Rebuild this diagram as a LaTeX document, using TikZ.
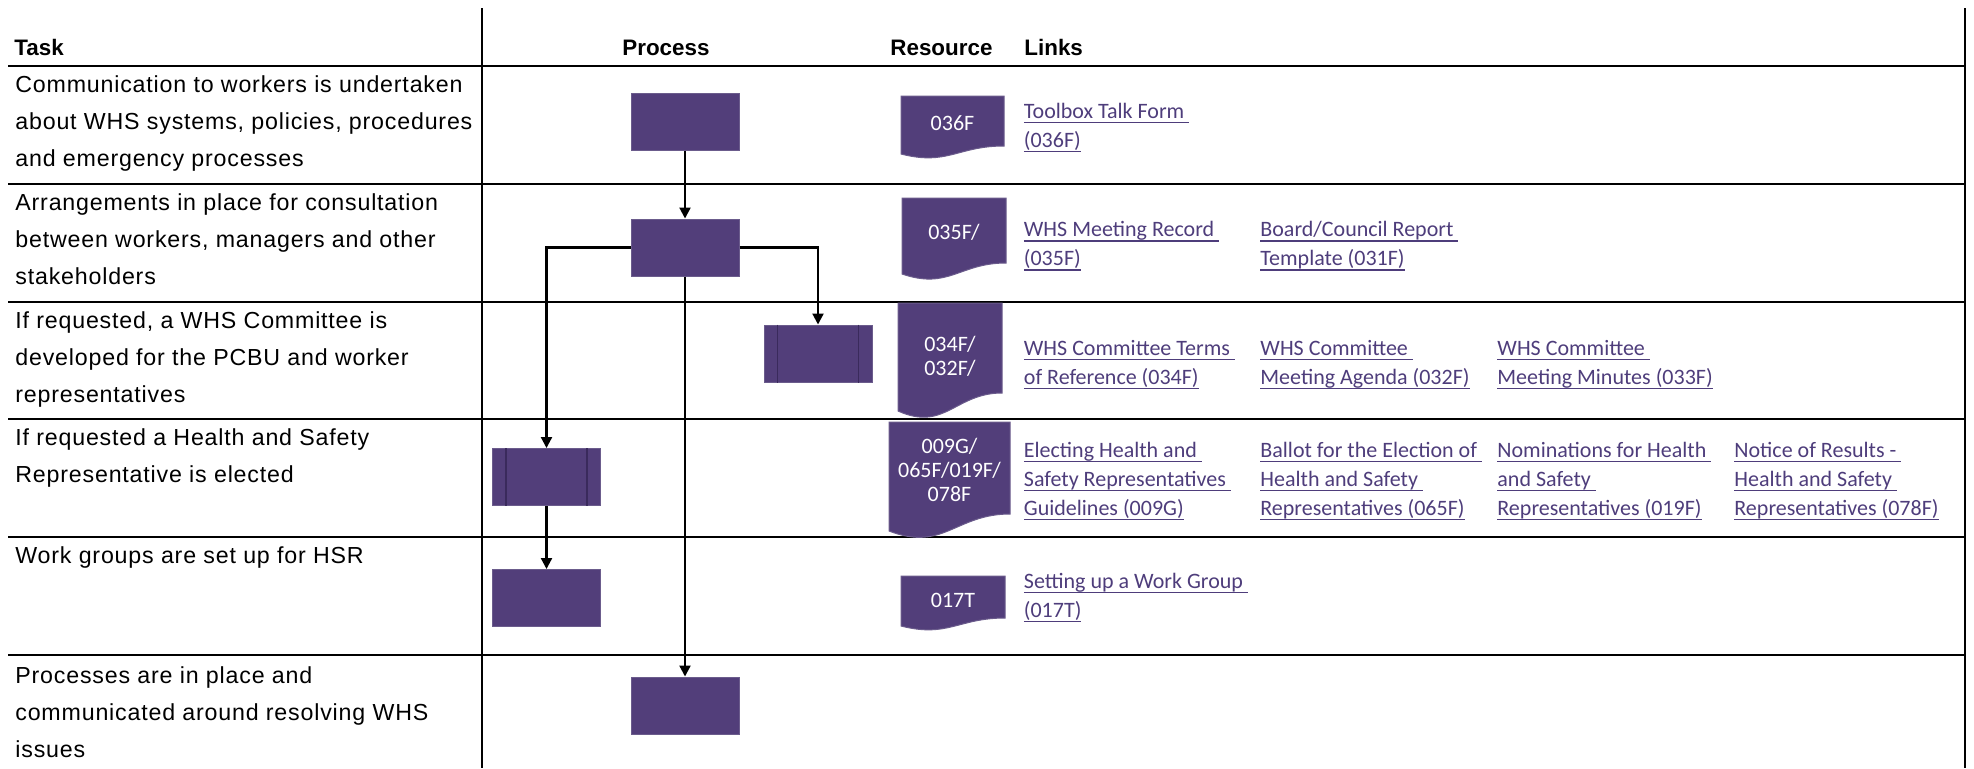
\documentclass[tikz,border=0pt]{standalone}
\usepackage{fontspec}
\setmainfont{Liberation Sans}
\newfontfamily\taskfont[LetterSpace=3.5]{Liberation Sans}
\newfontfamily\linkfont{Carlito}
\usetikzlibrary{arrows.meta}
\definecolor{boxfill}{HTML}{523E7A}
\definecolor{boxline}{HTML}{6B5C8C}
\definecolor{innerline}{HTML}{3A2A5C}
\definecolor{linkcol}{HTML}{4E3D7B}
\newcommand\lk[1]{\hbox{\setbox0=\hbox{#1}\rlap{\rule[-2.5pt]{\wd0}{0.7pt}}\box0}}
\newcommand\ctrline[1]{\hbox to 0pt{\hss#1\hss}}
\newcommand\docshape[6]{% x1 x2 ytop yright yleft ctrl
  \filldraw[fill=boxfill,draw=boxline,line width=0.5pt]
    (#1,#3) -- (#2,#3) -- (#2,#4)
    .. controls ({#2-0.45*(#2-#1)},#4) and ({#1+0.45*(#2-#1)},#6) .. (#1,#5) -- cycle;}
\tikzset{
  tbl/.style={line width=1.2pt,black},
  conn/.style={line width=1.1pt,black,-{Triangle[length=5.5pt,width=5.5pt]}},
  pbox/.style={draw=boxline,fill=boxfill,line width=0.5pt,minimum width=54pt,minimum height=28.5pt,inner sep=0pt},
  inner/.style={draw=innerline,line width=0.6pt},
  task/.style={anchor=base west,inner sep=0pt,font=\taskfont\fontsize{11.6}{18.65}\selectfont},
  head/.style={anchor=base west,inner sep=0pt,font=\bfseries\fontsize{11.2}{13}\selectfont},
  link/.style={anchor=base west,inner sep=0pt,text=linkcol,font=\linkfont\fontsize{11}{14.5}\selectfont},
  doctext/.style={anchor=base,inner sep=0pt,text=white,font=\linkfont\fontsize{11}{12}\selectfont},
}
\begin{document}
\begin{tikzpicture}[x=0.5pt,y=-0.5pt]
\useasboundingbox (0,0) rectangle (1974,768);
% table
\draw[tbl] (482,8) -- (482,768);
\draw[tbl] (1965,8) -- (1965,768);
\foreach \yy in {66,184,302,419,537,655} \draw[tbl] (8,\yy) -- (1965,\yy);
% headers
\node[head] (hTask) at (14,55) {Task};
\node[head] (hProc) at (622,55) {Process};
\node[head] (hRes) at (890,55) {Resource};
\node[head] (hLinks) at (1024,55) {Links};
% tasks
\node[task] (t1) at (15,92) {\vtop{\hbox{Communication to workers is undertaken}\hbox{about WHS systems, policies, procedures}\hbox{and emergency processes}}};
\node[task] (t2) at (15,210) {\vtop{\hbox{Arrangements in place for consultation}\hbox{between workers, managers and other}\hbox{stakeholders}}};
\node[task] (t3) at (15,328) {\vtop{\hbox{If requested, a WHS Committee is}\hbox{developed for the PCBU and worker}\hbox{representatives}}};
\node[task] (t4) at (15,445) {\vtop{\hbox{If requested a Health and Safety}\hbox{Representative is elected}}};
\node[task] (t5) at (15,563) {\vtop{\hbox{Work groups are set up for HSR}}};
\node[task] (t6) at (15,683) {\vtop{\hbox{Processes are in place and}\hbox{communicated around resolving WHS}\hbox{issues}}};
% process boxes
\node[pbox] (b1) at (685,121.5) {};
\node[pbox] (b2) at (685,247.5) {};
\node[pbox] (b3) at (818,353.5) {};
\node[pbox] (b4) at (546.5,477) {};
\node[pbox] (b5) at (546.5,598) {};
\node[pbox] (b6) at (685,705.5) {};
\draw[inner] ([xshift=7pt]b3.north west) -- ([xshift=7pt]b3.south west);
\draw[inner] ([xshift=-7pt]b3.north east) -- ([xshift=-7pt]b3.south east);
\draw[inner] ([xshift=7pt]b4.north west) -- ([xshift=7pt]b4.south west);
\draw[inner] ([xshift=-7pt]b4.north east) -- ([xshift=-7pt]b4.south east);
% connectors
\draw[conn] (b1.south) -- (b2.north);
\draw[conn] (b2.east) -| (b3.north);
\draw[conn] (b2.west) -| (b4.north);
\draw[conn] (b2.south) -- (b6.north);
\draw[conn] (b4.south) -- (b5.north);
% resource document shapes
\docshape{901}{1004}{96}{146}{154}{166}
\docshape{902}{1006}{198}{263}{274}{290}
\docshape{898}{1002}{303}{393}{411}{432}
\docshape{889}{1010}{422}{514}{531}{552}
\docshape{901}{1005}{576}{618}{626}{638}
\node[doctext] (d1) at (952.5,130) {036F};
\node[doctext] (d2) at (954,239) {035F/};
\node[doctext] (d3) at (950,351) {\vtop{\ctrline{034F/}\ctrline{032F/}}};
\node[doctext] (d4) at (949.5,453) {\vtop{\ctrline{009G/}\ctrline{065F/019F/}\ctrline{078F}}};
\node[doctext] (d5) at (953,607) {017T};
% links
\node[link] (l1a) at (1023.5,118) {\vtop{\lk{Toolbox Talk Form\ }\lk{(036F)}}};
\node[link] (l2a) at (1023.5,236.5) {\vtop{\lk{WHS Meeting Record\ }\lk{(035F)}}};
\node[link] (l2b) at (1260,236.5) {\vtop{\lk{Board/Council Report\ }\lk{Template (031F)}}};
\node[link] (l3a) at (1023.5,355) {\vtop{\lk{WHS Committee Terms\ }\lk{of Reference (034F)}}};
\node[link] (l3b) at (1260,355) {\vtop{\lk{WHS Committee\ }\lk{Meeting Agenda (032F)}}};
\node[link] (l3c) at (1497,355) {\vtop{\lk{WHS Committee\ }\lk{Meeting Minutes (033F)}}};
\node[link] (l4a) at (1023.5,457) {\vtop{\lk{Electing Health and\ }\lk{Safety Representatives\ }\lk{Guidelines (009G)}}};
\node[link] (l4b) at (1260,457) {\vtop{\lk{Ballot for the Election of\ }\lk{Health and Safety\ }\lk{Representatives (065F)}}};
\node[link] (l4c) at (1497,457) {\vtop{\lk{Nominations for Health\ }\lk{and Safety\ }\lk{Representatives (019F)}}};
\node[link] (l4d) at (1734,457) {\vtop{\lk{Notice of Results -\ }\lk{Health and Safety\ }\lk{Representatives (078F)}}};
\node[link] (l5a) at (1023.5,588) {\vtop{\lk{Setting up a Work Group\ }\lk{(017T)}}};
\end{tikzpicture}
\end{document}
